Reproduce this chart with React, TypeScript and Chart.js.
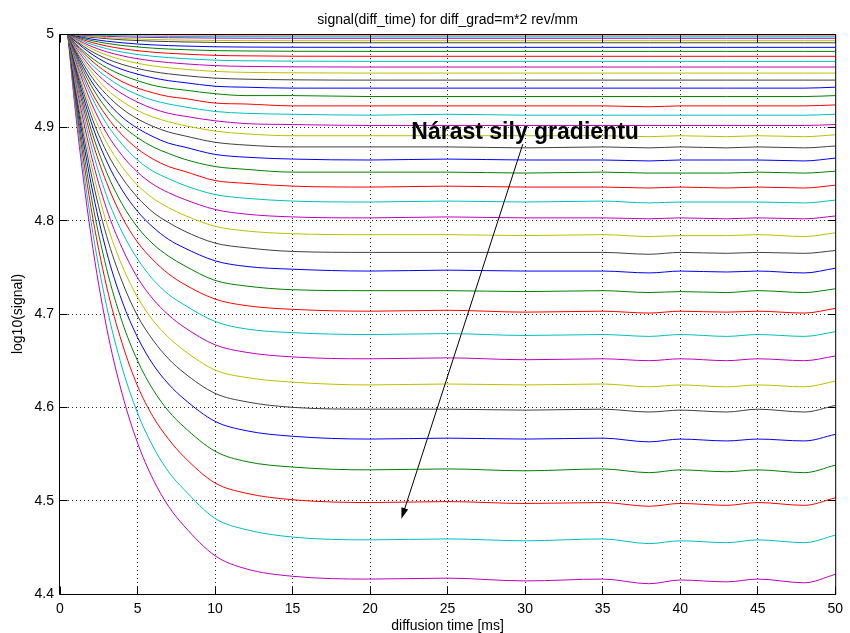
import React, { useEffect, useRef } from 'react';
import { Chart, registerables } from 'chart.js';

Chart.register(...registerables);

const FONT = '"Liberation Sans", Arial, Helvetica, sans-serif';

// diffusion time samples [ms]
const diffTime = [0.5, 1, 2, 3, 4, 5, 6, 7, 8, 10, 12, 15, 20, 25, 30, 35, 38, 40, 43, 45, 48, 50];
const xTicks = [0, 5, 10, 15, 20, 25, 30, 35, 40, 45, 50];
const yTicks = [4.4, 4.5, 4.6, 4.7, 4.8, 4.9, 5];

const titleText = 'signal(diff_time) for diff_grad=m*2 rev/mm';
const xLabel = 'diffusion time [ms]';
const yLabel = 'log10(signal)';
const noteText = 'Nárast sily gradientu';
const noteAnchor = { x: 22.66, y: 4.888 };
const arrowFrom = { x: 29.85, y: 4.882 };
const arrowTo = { x: 22.02, y: 4.4805 };

// MATLAB (classic) colour order: b g r c m y k
const lineColors = ['#0000FF', '#008000', '#FF0000', '#00BFBF', '#BF00BF', '#BFBF00', '#404040'];

// log10(signal), one array per gradient step m = 0..39
const s0 = [5, 5, 5, 5, 5, 5, 5, 5, 5, 5, 5, 5, 5, 5, 5, 5, 5, 5, 5, 5, 5, 5];
const s1 = [5, 4.9999, 4.9998, 4.9997, 4.9997, 4.9996, 4.9996, 4.9996, 4.9995, 4.9995, 4.9995, 4.9995, 4.9995, 4.9995, 4.9995, 4.9995, 4.9995, 4.9995, 4.9995, 4.9995, 4.9995, 4.9995];
const s2 = [5, 4.9999, 4.9996, 4.9995, 4.9993, 4.9993, 4.9992, 4.9991, 4.9991, 4.999, 4.999, 4.999, 4.999, 4.999, 4.999, 4.999, 4.999, 4.999, 4.999, 4.999, 4.999, 4.999];
const s3 = [5, 4.9996, 4.9989, 4.9984, 4.998, 4.9978, 4.9976, 4.9974, 4.9973, 4.9971, 4.9971, 4.997, 4.997, 4.997, 4.997, 4.997, 4.997, 4.997, 4.997, 4.997, 4.997, 4.997];
const s4 = [5, 4.9993, 4.9983, 4.9975, 4.997, 4.9966, 4.9963, 4.996, 4.9959, 4.9956, 4.9955, 4.9954, 4.9954, 4.9954, 4.9954, 4.9954, 4.9954, 4.9954, 4.9954, 4.9954, 4.9954, 4.9954];
const s5 = [5, 4.999, 4.9973, 4.9961, 4.9953, 4.9946, 4.9941, 4.9938, 4.9935, 4.9931, 4.9929, 4.9928, 4.9928, 4.9928, 4.9928, 4.9928, 4.9928, 4.9928, 4.9928, 4.9928, 4.9928, 4.9928];
const s6 = [5, 4.9987, 4.9965, 4.995, 4.9938, 4.993, 4.9923, 4.9919, 4.9915, 4.991, 4.9908, 4.9907, 4.9906, 4.9906, 4.9906, 4.9906, 4.9906, 4.9906, 4.9906, 4.9906, 4.9906, 4.9906];
const s7 = [5, 4.998, 4.9947, 4.9923, 4.9906, 4.9893, 4.9883, 4.9876, 4.9871, 4.9863, 4.986, 4.9858, 4.9857, 4.9857, 4.9857, 4.9857, 4.9857, 4.9857, 4.9857, 4.9857, 4.9857, 4.9857];
const s8 = [5, 4.9973, 4.9931, 4.99, 4.9877, 4.9861, 4.9848, 4.9839, 4.9832, 4.9822, 4.9818, 4.9815, 4.9814, 4.9814, 4.9814, 4.9814, 4.9814, 4.9814, 4.9814, 4.9814, 4.9814, 4.9814];
const s9 = [5, 4.9966, 4.9912, 4.9872, 4.9843, 4.9821, 4.9805, 4.9793, 4.9785, 4.9771, 4.9766, 4.9762, 4.9761, 4.9761, 4.9761, 4.9761, 4.9761, 4.9761, 4.9761, 4.9761, 4.9761, 4.9761];
const s10 = [5, 4.9958, 4.9892, 4.9843, 4.9807, 4.978, 4.9761, 4.9747, 4.9736, 4.972, 4.9713, 4.9709, 4.9707, 4.9707, 4.9707, 4.9707, 4.9707, 4.9707, 4.9707, 4.9707, 4.9707, 4.9707];
const s11 = [5, 4.9949, 4.9869, 4.981, 4.9767, 4.9735, 4.9711, 4.9694, 4.9681, 4.9661, 4.9653, 4.9648, 4.9646, 4.9646, 4.9646, 4.9646, 4.9646, 4.9646, 4.9646, 4.9646, 4.9646, 4.9646];
const s12 = [5, 4.994, 4.9845, 4.9775, 4.9724, 4.9686, 4.9658, 4.9638, 4.9623, 4.9599, 4.9589, 4.9584, 4.9581, 4.9581, 4.9581, 4.9581, 4.9581, 4.9581, 4.9581, 4.9581, 4.9581, 4.9581];
const s13 = [5, 4.9929, 4.9817, 4.9735, 4.9675, 4.963, 4.9597, 4.9573, 4.9555, 4.9527, 4.9516, 4.9509, 4.9506, 4.9506, 4.9506, 4.9506, 4.9506, 4.9506, 4.9506, 4.9506, 4.9506, 4.9506];
const s14 = [5, 4.992, 4.979, 4.969, 4.962, 4.957, 4.953, 4.95, 4.948, 4.944, 4.943, 4.942, 4.942, 4.942, 4.942, 4.942, 4.942, 4.942, 4.942, 4.942, 4.942, 4.943];
const s15 = [5, 4.99, 4.975, 4.964, 4.956, 4.95, 4.945, 4.942, 4.94, 4.936, 4.934, 4.934, 4.933, 4.933, 4.933, 4.933, 4.933, 4.933, 4.933, 4.933, 4.933, 4.934];
const s16 = [5, 4.989, 4.972, 4.959, 4.949, 4.942, 4.937, 4.933, 4.931, 4.926, 4.925, 4.923, 4.923, 4.923, 4.923, 4.923, 4.922, 4.923, 4.923, 4.923, 4.923, 4.924];
const s17 = [5, 4.988, 4.968, 4.954, 4.943, 4.935, 4.929, 4.925, 4.922, 4.917, 4.915, 4.914, 4.913, 4.914, 4.913, 4.913, 4.913, 4.913, 4.913, 4.913, 4.913, 4.914];
const s18 = [5, 4.986, 4.964, 4.948, 4.936, 4.927, 4.92, 4.915, 4.912, 4.907, 4.904, 4.903, 4.902, 4.902, 4.902, 4.902, 4.902, 4.902, 4.902, 4.902, 4.902, 4.903];
const s19 = [5, 4.984, 4.96, 4.941, 4.928, 4.918, 4.911, 4.906, 4.902, 4.896, 4.893, 4.891, 4.891, 4.891, 4.891, 4.891, 4.89, 4.891, 4.89, 4.891, 4.89, 4.892];
const s20 = [5, 4.983, 4.955, 4.935, 4.92, 4.909, 4.901, 4.895, 4.891, 4.884, 4.881, 4.879, 4.879, 4.879, 4.878, 4.879, 4.878, 4.879, 4.878, 4.879, 4.878, 4.88];
const s21 = [5, 4.981, 4.95, 4.928, 4.911, 4.899, 4.89, 4.883, 4.879, 4.871, 4.868, 4.866, 4.865, 4.866, 4.865, 4.865, 4.864, 4.865, 4.865, 4.865, 4.864, 4.867];
const s22 = [5, 4.979, 4.945, 4.92, 4.902, 4.889, 4.879, 4.872, 4.866, 4.858, 4.855, 4.852, 4.852, 4.852, 4.851, 4.852, 4.851, 4.851, 4.851, 4.852, 4.851, 4.853];
const s23 = [5, 4.977, 4.939, 4.912, 4.892, 4.877, 4.866, 4.858, 4.853, 4.843, 4.84, 4.837, 4.836, 4.837, 4.836, 4.836, 4.835, 4.836, 4.835, 4.836, 4.835, 4.838];
const s24 = [5, 4.974, 4.934, 4.904, 4.882, 4.865, 4.853, 4.845, 4.838, 4.828, 4.824, 4.821, 4.82, 4.821, 4.82, 4.821, 4.819, 4.82, 4.82, 4.82, 4.819, 4.822];
const s25 = [5, 4.972, 4.927, 4.894, 4.87, 4.852, 4.839, 4.83, 4.823, 4.812, 4.807, 4.804, 4.803, 4.804, 4.803, 4.803, 4.802, 4.803, 4.802, 4.803, 4.802, 4.805];
const s26 = [5, 4.969, 4.92, 4.884, 4.858, 4.838, 4.824, 4.814, 4.806, 4.794, 4.789, 4.786, 4.785, 4.785, 4.784, 4.785, 4.783, 4.784, 4.784, 4.785, 4.783, 4.787];
const s27 = [5, 4.967, 4.913, 4.874, 4.846, 4.825, 4.809, 4.798, 4.789, 4.776, 4.771, 4.767, 4.766, 4.766, 4.766, 4.766, 4.764, 4.766, 4.765, 4.766, 4.765, 4.768];
const s28 = [5, 4.964, 4.906, 4.864, 4.833, 4.81, 4.793, 4.78, 4.771, 4.757, 4.751, 4.748, 4.746, 4.747, 4.746, 4.746, 4.744, 4.746, 4.745, 4.746, 4.744, 4.749];
const s29 = [5, 4.961, 4.898, 4.852, 4.818, 4.793, 4.775, 4.762, 4.752, 4.736, 4.73, 4.726, 4.725, 4.725, 4.724, 4.725, 4.723, 4.724, 4.723, 4.725, 4.723, 4.727];
const s30 = [5, 4.958, 4.89, 4.841, 4.804, 4.777, 4.758, 4.743, 4.732, 4.716, 4.709, 4.705, 4.703, 4.704, 4.702, 4.703, 4.701, 4.703, 4.702, 4.703, 4.701, 4.706];
const s31 = [5, 4.954, 4.881, 4.827, 4.788, 4.759, 4.737, 4.721, 4.71, 4.692, 4.684, 4.68, 4.678, 4.679, 4.677, 4.678, 4.676, 4.678, 4.676, 4.678, 4.676, 4.681];
const s32 = [5, 4.95, 4.871, 4.813, 4.771, 4.739, 4.716, 4.699, 4.686, 4.667, 4.659, 4.654, 4.652, 4.653, 4.651, 4.652, 4.65, 4.652, 4.65, 4.652, 4.65, 4.655];
const s33 = [5, 4.946, 4.861, 4.798, 4.752, 4.718, 4.693, 4.675, 4.661, 4.64, 4.632, 4.627, 4.624, 4.625, 4.624, 4.625, 4.622, 4.624, 4.622, 4.624, 4.622, 4.628];
const s34 = [5, 4.942, 4.851, 4.784, 4.735, 4.698, 4.672, 4.652, 4.637, 4.615, 4.606, 4.6, 4.598, 4.598, 4.597, 4.598, 4.595, 4.597, 4.595, 4.598, 4.595, 4.602];
const s35 = [5, 4.938, 4.84, 4.767, 4.714, 4.675, 4.646, 4.625, 4.609, 4.585, 4.575, 4.569, 4.566, 4.567, 4.566, 4.567, 4.563, 4.566, 4.564, 4.566, 4.564, 4.571];
const s36 = [5, 4.933, 4.827, 4.749, 4.692, 4.65, 4.619, 4.596, 4.579, 4.553, 4.542, 4.536, 4.533, 4.534, 4.532, 4.534, 4.53, 4.533, 4.531, 4.533, 4.53, 4.538];
const s37 = [5, 4.928, 4.814, 4.73, 4.669, 4.623, 4.59, 4.566, 4.547, 4.519, 4.508, 4.501, 4.498, 4.499, 4.497, 4.498, 4.494, 4.497, 4.495, 4.498, 4.495, 4.503];
const s38 = [5, 4.922, 4.799, 4.709, 4.643, 4.594, 4.558, 4.531, 4.512, 4.481, 4.469, 4.461, 4.458, 4.459, 4.457, 4.459, 4.454, 4.457, 4.455, 4.458, 4.455, 4.463];
const s39 = [5, 4.916, 4.784, 4.686, 4.615, 4.562, 4.523, 4.494, 4.473, 4.441, 4.427, 4.419, 4.416, 4.417, 4.414, 4.416, 4.411, 4.415, 4.413, 4.416, 4.412, 4.421];

const seriesList = [
  s0, s1, s2, s3, s4, s5, s6, s7, s8, s9,
  s10, s11, s12, s13, s14, s15, s16, s17, s18, s19,
  s20, s21, s22, s23, s24, s25, s26, s27, s28, s29,
  s30, s31, s32, s33, s34, s35, s36, s37, s38, s39,
];

const alignPx = (p: number) => Math.round(p - 0.5) + 0.5;

const matlabPlugin = {
  id: 'matlabDecor',
  afterDatasetsDraw(chart: any) {
    const { ctx, chartArea: a, scales } = chart;
    const xs = scales.x;
    const ys = scales.y;
    const L = a.left - 0.5;
    const R = a.right + 0.5;
    const T = a.top + 0.5;
    const B = a.bottom + 0.5;
    const tickLen = 8;
    ctx.save();
    ctx.strokeStyle = '#000';
    ctx.lineWidth = 1;
    ctx.setLineDash([]);
    ctx.beginPath();
    ctx.rect(L, T, R - L, B - T);
    ctx.stroke();
    ctx.beginPath();
    xTicks.forEach((v) => {
      const p = alignPx(xs.getPixelForValue(v));
      ctx.moveTo(p, B);
      ctx.lineTo(p, B - tickLen);
      ctx.moveTo(p, T);
      ctx.lineTo(p, T + tickLen);
    });
    yTicks.forEach((v) => {
      const p = alignPx(ys.getPixelForValue(v));
      ctx.moveTo(L, p);
      ctx.lineTo(L + tickLen, p);
      ctx.moveTo(R, p);
      ctx.lineTo(R - tickLen, p);
    });
    ctx.stroke();

    // annotation arrow
    const x1 = xs.getPixelForValue(arrowFrom.x);
    const y1 = ys.getPixelForValue(arrowFrom.y);
    const x2 = xs.getPixelForValue(arrowTo.x);
    const y2 = ys.getPixelForValue(arrowTo.y);
    const ang = Math.atan2(y2 - y1, x2 - x1);
    const headLen = 11;
    const headHalf = 3.5;
    ctx.beginPath();
    ctx.moveTo(x1, y1);
    ctx.lineTo(x2 - Math.cos(ang) * headLen * 0.8, y2 - Math.sin(ang) * headLen * 0.8);
    ctx.stroke();
    ctx.beginPath();
    ctx.moveTo(x2, y2);
    const bx = x2 - Math.cos(ang) * headLen;
    const by = y2 - Math.sin(ang) * headLen;
    ctx.lineTo(bx + Math.sin(ang) * headHalf, by - Math.cos(ang) * headHalf);
    ctx.lineTo(bx - Math.sin(ang) * headHalf, by + Math.cos(ang) * headHalf);
    ctx.closePath();
    ctx.fillStyle = '#000';
    ctx.fill();

    // annotation text
    ctx.font = `bold 23px ${FONT}`;
    ctx.textAlign = 'left';
    ctx.textBaseline = 'alphabetic';
    ctx.fillText(noteText, xs.getPixelForValue(noteAnchor.x), ys.getPixelForValue(noteAnchor.y));

    // title and axis labels
    ctx.font = `14px ${FONT}`;
    ctx.textAlign = 'center';
    const cx = (a.left + a.right) / 2;
    ctx.fillText(titleText, cx, a.top - 10);
    ctx.fillText(xLabel, cx, a.bottom + 36);
    ctx.save();
    ctx.translate(22, (a.top + a.bottom) / 2);
    ctx.rotate(-Math.PI / 2);
    ctx.fillText(yLabel, 0, 0);
    ctx.restore();
    ctx.restore();
  },
};

const edgeless = (edges: number[]) => (c: any) =>
  c.tick && edges.includes(c.tick.value) ? 'rgba(0,0,0,0)' : 'rgba(0,0,0,0.85)';

export default function App() {
  const ref = useRef<HTMLCanvasElement | null>(null);
  useEffect(() => {
    if (!ref.current) return;
    const chart = new Chart(ref.current, {
      type: 'line',
      data: {
        datasets: seriesList.map((vals, i) => ({
          label: `m=${i}`,
          data: vals.map((v, k) => ({ x: diffTime[k], y: v })),
          borderColor: lineColors[i % lineColors.length],
          backgroundColor: lineColors[i % lineColors.length],
          borderWidth: 1,
          pointRadius: 0,
          fill: false,
          cubicInterpolationMode: 'monotone',
        })),
      },
      options: {
        responsive: false,
        maintainAspectRatio: false,
        animation: false,
        devicePixelRatio: 1,
        layout: { padding: { top: 34, right: 11, left: 0, bottom: 0 } },
        plugins: {
          legend: { display: false },
          tooltip: { enabled: false },
          title: { display: false },
        },
        scales: {
          x: {
            type: 'linear',
            min: 0,
            max: 50,
            afterBuildTicks: (s: any) => {
              s.ticks = xTicks.map((v) => ({ value: v }));
            },
            afterFit: (s: any) => {
              s.height = 39;
            },
            grid: { color: edgeless([0, 50]), lineWidth: 1, drawTicks: false },
            border: { display: false, dash: [1, 3] },
            ticks: {
              color: '#000',
              font: { family: FONT, size: 14 },
              padding: 7,
              maxRotation: 0,
              autoSkip: false,
              callback: (v: any) => String(v),
            },
          },
          y: {
            type: 'linear',
            min: 4.4,
            max: 5,
            afterBuildTicks: (s: any) => {
              s.ticks = yTicks.map((v) => ({ value: v }));
            },
            afterFit: (s: any) => {
              s.width = 60;
            },
            grid: { color: edgeless([4.4, 5]), lineWidth: 1, drawTicks: false },
            border: { display: false, dash: [1, 3] },
            ticks: {
              color: '#000',
              font: { family: FONT, size: 14 },
              padding: 6,
              autoSkip: false,
              callback: (v: any) => String(Number(Number(v).toFixed(1))),
            },
          },
        },
      },
      plugins: [matlabPlugin],
    } as any);
    return () => chart.destroy();
  }, []);
  return (
    <div style={{ position: 'fixed', left: 0, top: 0, width: 850, height: 633, background: '#fff' }}>
      <canvas ref={ref} width={850} height={633} style={{ display: 'block', width: 850, height: 633 }} />
    </div>
  );
}
